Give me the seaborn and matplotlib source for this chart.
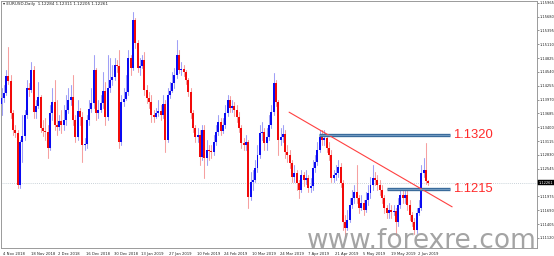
import numpy as np
import pandas as pd
import matplotlib
matplotlib.use("Agg")
import matplotlib.pyplot as plt
import matplotlib.transforms as mtransforms
import seaborn as sns

# ---------------- data ----------------
first_open = 1.1388
closes = [
    1.1400, 1.1411, 1.1446, 1.1435, 1.1369, 1.1334, 1.1328, 1.1221, 1.1310, 1.1322,
    1.1365, 1.1421, 1.1417, 1.1458, 1.1371, 1.1384, 1.1402, 1.1338, 1.1332, 1.1330,
    1.1297, 1.1369, 1.1392, 1.1345, 1.1340, 1.1353, 1.1345, 1.1355, 1.1376, 1.1396,
    1.1402, 1.1355, 1.1320, 1.1373, 1.1361, 1.1303, 1.1305, 1.1355, 1.1378, 1.1390,
    1.1458, 1.1369, 1.1376, 1.1390, 1.1415, 1.1361, 1.1421, 1.1437, 1.1443, 1.1468,
    1.1466, 1.1310, 1.1392, 1.1398, 1.1413, 1.1483, 1.1462, 1.1561, 1.1514, 1.1462,
    1.1466, 1.1478, 1.1417, 1.1400, 1.1392, 1.1365, 1.1361, 1.1369, 1.1373, 1.1365,
    1.1388, 1.1314, 1.1406, 1.1415, 1.1431, 1.1448, 1.1489, 1.1458, 1.1460, 1.1454,
    1.1437, 1.1413, 1.1369, 1.1338, 1.1320, 1.1324, 1.1279, 1.1334, 1.1277, 1.1293,
    1.1291, 1.1289, 1.1310, 1.1330, 1.1351, 1.1332, 1.1345, 1.1369, 1.1396, 1.1380,
    1.1384, 1.1376, 1.1361, 1.1338, 1.1308, 1.1303, 1.1310, 1.1196, 1.1227, 1.1231,
    1.1256, 1.1283, 1.1328, 1.1330, 1.1308, 1.1320, 1.1345, 1.1371, 1.1431, 1.1392,
    1.1314, 1.1320, 1.1326, 1.1289, 1.1283, 1.1266, 1.1237, 1.1246, 1.1225, 1.1211,
    1.1242, 1.1231, 1.1235, 1.1215, 1.1219, 1.1256, 1.1268, 1.1293, 1.1320, 1.1314,
    1.1318, 1.1297, 1.1283, 1.1235, 1.1242, 1.1246, 1.1258, 1.1225, 1.1145, 1.1132,
    1.1149, 1.1180, 1.1194, 1.1207, 1.1194, 1.1174, 1.1184, 1.1170, 1.1190, 1.1205,
    1.1221, 1.1235, 1.1231, 1.1221, 1.1211, 1.1194, 1.1174, 1.1163, 1.1170, 1.1165,
    1.1167, 1.1145, 1.1180, 1.1200, 1.1194, 1.1200, 1.1180, 1.1159, 1.1145, 1.1128,
    1.1163, 1.1174, 1.1246, 1.1252, 1.12284, 1.12261,
]
highs = [
    1.1421, 1.1427, 1.1458, 1.1505, 1.1448, 1.1376, 1.1345, 1.1334, 1.1314, 1.1365,
    1.1376, 1.1437, 1.1431, 1.1474, 1.1466, 1.1396, 1.1433, 1.1406, 1.1355, 1.1359,
    1.1345, 1.1386, 1.1421, 1.1437, 1.1396, 1.1365, 1.1376, 1.1386, 1.1406, 1.1421,
    1.1427, 1.1448, 1.1365, 1.1396, 1.1380, 1.1371, 1.1318, 1.1365, 1.1396, 1.1421,
    1.1489, 1.1462, 1.1396, 1.1406, 1.1454, 1.1433, 1.1489, 1.1483, 1.1468, 1.1483,
    1.1478, 1.1499, 1.1406, 1.1421, 1.1448, 1.1499, 1.1489, 1.1577, 1.1565, 1.1520,
    1.1483, 1.1489, 1.1495, 1.1427, 1.1413, 1.1406, 1.1376, 1.1380, 1.1396, 1.1386,
    1.1406, 1.1396, 1.1421, 1.1433, 1.1454, 1.1462, 1.1520, 1.1499, 1.1474, 1.1468,
    1.1458, 1.1441, 1.1421, 1.1376, 1.1345, 1.1338, 1.1334, 1.1345, 1.1345, 1.1314,
    1.1303, 1.1303, 1.1324, 1.1345, 1.1365, 1.1359, 1.1359, 1.1386, 1.1406, 1.1404,
    1.1396, 1.1392, 1.1386, 1.1371, 1.1345, 1.1318, 1.1324, 1.1314, 1.1248, 1.1252,
    1.1273, 1.1303, 1.1345, 1.1351, 1.1338, 1.1338, 1.1365, 1.1386, 1.1452, 1.1437,
    1.1396, 1.1338, 1.1345, 1.1334, 1.1303, 1.1293, 1.1273, 1.1262, 1.1252, 1.1231,
    1.1252, 1.1248, 1.1252, 1.1242, 1.1235, 1.1273, 1.1283, 1.1310, 1.1334, 1.1334,
    1.1334, 1.1324, 1.1310, 1.1293, 1.1252, 1.1262, 1.1273, 1.1266, 1.1231, 1.1159,
    1.1170, 1.1194, 1.1211, 1.1221, 1.1262, 1.1200, 1.1200, 1.1190, 1.1207, 1.1221,
    1.1237, 1.1262, 1.1248, 1.1242, 1.1231, 1.1221, 1.1200, 1.1180, 1.1184, 1.1180,
    1.1180, 1.1174, 1.1194, 1.1215, 1.1211, 1.1215, 1.1211, 1.1190, 1.1165, 1.1153,
    1.1174, 1.1190, 1.1262, 1.1277, 1.1308, 1.12311,
]
lows = [
    1.1365, 1.1392, 1.1406, 1.1429, 1.1359, 1.1324, 1.1320, 1.1215, 1.1215, 1.1268,
    1.1314, 1.1359, 1.1404, 1.1413, 1.1359, 1.1359, 1.1380, 1.1330, 1.1322, 1.1314,
    1.1277, 1.1293, 1.1355, 1.1334, 1.1324, 1.1334, 1.1328, 1.1334, 1.1345, 1.1369,
    1.1386, 1.1345, 1.1310, 1.1314, 1.1345, 1.1268, 1.1293, 1.1297, 1.1345, 1.1371,
    1.1380, 1.1355, 1.1359, 1.1371, 1.1380, 1.1345, 1.1355, 1.1413, 1.1427, 1.1437,
    1.1454, 1.1297, 1.1303, 1.1384, 1.1396, 1.1406, 1.1448, 1.1458, 1.1503, 1.1454,
    1.1448, 1.1462, 1.1406, 1.1390, 1.1380, 1.1351, 1.1351, 1.1359, 1.1363, 1.1355,
    1.1359, 1.1289, 1.1310, 1.1400, 1.1413, 1.1421, 1.1441, 1.1452, 1.1448, 1.1446,
    1.1429, 1.1404, 1.1359, 1.1330, 1.1310, 1.1310, 1.1262, 1.1273, 1.1235, 1.1262,
    1.1273, 1.1277, 1.1283, 1.1303, 1.1324, 1.1324, 1.1328, 1.1338, 1.1363, 1.1371,
    1.1371, 1.1363, 1.1351, 1.1330, 1.1297, 1.1293, 1.1293, 1.1174, 1.1190, 1.1211,
    1.1227, 1.1248, 1.1277, 1.1314, 1.1293, 1.1293, 1.1314, 1.1338, 1.1365, 1.1384,
    1.1283, 1.1303, 1.1310, 1.1277, 1.1268, 1.1256, 1.1227, 1.1227, 1.1211, 1.1194,
    1.1207, 1.1219, 1.1223, 1.1207, 1.1207, 1.1211, 1.1248, 1.1262, 1.1289, 1.1303,
    1.1303, 1.1289, 1.1273, 1.1227, 1.1227, 1.1231, 1.1237, 1.1217, 1.1128, 1.1116,
    1.1128, 1.1145, 1.1174, 1.1184, 1.1184, 1.1163, 1.1170, 1.1159, 1.1165, 1.1180,
    1.1194, 1.1211, 1.1221, 1.1211, 1.1200, 1.1184, 1.1163, 1.1153, 1.1153, 1.1153,
    1.1159, 1.1118, 1.1137, 1.1174, 1.1184, 1.1184, 1.1170, 1.1149, 1.1137, 1.1120,
    1.1122, 1.1159, 1.1170, 1.1237, 1.1223, 1.12205,
]
date_labels = ["4 Nov 2018", "18 Nov 2018", "2 Dec 2018", "16 Dec 2018", "30 Dec 2018",
               "13 Jan 2019", "27 Jan 2019", "10 Feb 2019", "24 Feb 2019", "10 Mar 2019",
               "24 Mar 2019", "7 Apr 2019", "21 Apr 2019", "5 May 2019", "19 May 2019",
               "2 Jun 2019"]
date_label_bars = [0, 12, 24, 36, 48, 60, 72, 84, 96, 108, 120, 132, 144, 156, 168, 180]
price_ticks = [1.15965, 1.15680, 1.15395, 1.15110, 1.14825, 1.14540, 1.14255, 1.13970,
               1.13685, 1.13400, 1.13115, 1.12830, 1.12545, 1.11975, 1.11690,
               1.11405, 1.11120]
header = "EURUSD,Daily  1.12284 1.12311 1.12205 1.12261"
current_price = 1.12261
level_prices = [1.1325, 1.1213]
level_texts = ["1.1320", "1.1215"]
level_start_bar = [137.7, 167.2]
level_end_bar = [194.5, 194.5]
trend_bars = [124.7, 195.4]
trend_prices = [1.1371, 1.1176]
watermark = "www.forexre.com"

# ---------------- build table ----------------
n = len(closes)
opens = [first_open] + closes[:-1]
df = pd.DataFrame({"bar": np.arange(n), "open": opens, "high": highs,
                   "low": lows, "close": closes})
df["high"] = df[["high", "open", "close"]].max(axis=1)
df["low"] = df[["low", "open", "close"]].min(axis=1)
df["dir"] = np.where(df["close"] >= df["open"], "up", "down")

wicks = pd.concat([
    df[["bar", "high", "dir"]].rename(columns={"high": "price"}),
    df[["bar", "low", "dir"]].rename(columns={"low": "price"}),
]).sort_values("bar").reset_index(drop=True)

# ---------------- figure ----------------
sns.set_theme(style="white")
plt.rcParams["font.family"] = ["DejaVu Sans"]

W, H = 554, 256
fig = plt.figure(figsize=(W / 100, H / 100), dpi=100)
fig.patch.set_facecolor("white")
ax_left, ax_right, ax_top, ax_bot = 1, 537, 1, 248
ax = fig.add_axes([ax_left / W, 1 - ax_bot / H, (ax_right - ax_left) / W, (ax_bot - ax_top) / H])
ax.set_facecolor("white")

# wicks
sns.lineplot(data=wicks, x="bar", y="price", units="bar", estimator=None, hue="dir",
             palette={"up": "#a0a0f6", "down": "#f6a0a0"}, linewidth=0.75,
             legend=False, sort=False, ax=ax)
# bodies
body_bottom = df[["open", "close"]].min(axis=1)
body_height = (df["close"] - df["open"]).abs().clip(lower=0.00014)
body_colors = np.where(df["dir"] == "up", "#0a0af2", "#f20a0a")
ax.bar(df["bar"], body_height, bottom=body_bottom, width=0.86, color=body_colors,
       linewidth=0, zorder=3)

# current price dotted line
ax.axhline(current_price, color="#b8c4cc", lw=0.6, ls=(0, (1, 1.5)), zorder=1)

# horizontal levels
for lp, lt, ls_, le_ in zip(level_prices, level_texts, level_start_bar, level_end_bar):
    ax.plot([ls_, le_], [lp, lp], color="#3a6b9b", lw=2.4, solid_capstyle="butt", zorder=4)
    ax.plot([ls_, le_], [lp, lp], color="#7aa3c8", lw=0.6, solid_capstyle="butt", zorder=5)
    ax.text(le_ + 1.3, lp, lt, color="#ff2a2a", fontsize=9.4, va="center", ha="left",
            family="Liberation Sans", zorder=6)

# trend line
sns.lineplot(x=trend_bars, y=trend_prices, color="#ff4040", linewidth=0.8, ax=ax, zorder=4)

# axes limits
ax.set_xlim(-0.22, 232.2)
ax.set_ylim(1.10912, 1.16000)

# spines
for s in ax.spines.values():
    s.set_color("#9a9a9a")
    s.set_linewidth(0.7)

# x ticks
ax.set_xticks(date_label_bars)
ax.set_xticklabels(date_labels)
ax.tick_params(axis="x", direction="out", length=2.2, width=0.5, colors="#666666",
               labelsize=2.7, labelcolor="#222222", pad=1.0)
offset = mtransforms.ScaledTranslation(1.6 / 100, 0, fig.dpi_scale_trans)
for lab in ax.get_xticklabels():
    lab.set_ha("left")
    lab.set_transform(lab.get_transform() + offset)

# y ticks on right
ax.yaxis.tick_right()
ax.set_yticks(price_ticks)
ax.set_yticklabels([f"{t:.5f}" for t in price_ticks])
ax.tick_params(axis="y", direction="out", length=1.5, width=0.5, colors="#666666",
               labelsize=2.6, labelcolor="#222222", pad=0.6)
ax.set_xlabel("")
ax.set_ylabel("")

# current price box on the right axis
ax.annotate(f"{current_price:.5f}", xy=(1.0, current_price), xycoords=("axes fraction", "data"),
            xytext=(1.2, 0), textcoords="offset points", fontsize=2.6, color="white",
            va="center", ha="left",
            bbox=dict(boxstyle="square,pad=0.2", fc="black", ec="black", lw=0.3))

# header
fig.text(3 / W, 1 - 4 / H, "\u25BE " + header, fontsize=3.0, color="#222222",
         va="center", ha="left")

# watermark (sits just above the date labels)
fig.text(537 / W, 1 - 248.5 / H, watermark, fontsize=19, color="#9a9a9a",
         ha="right", va="baseline", family="DejaVu Sans", alpha=0.9)

fig.savefig("out.png", dpi=100, facecolor="white")
